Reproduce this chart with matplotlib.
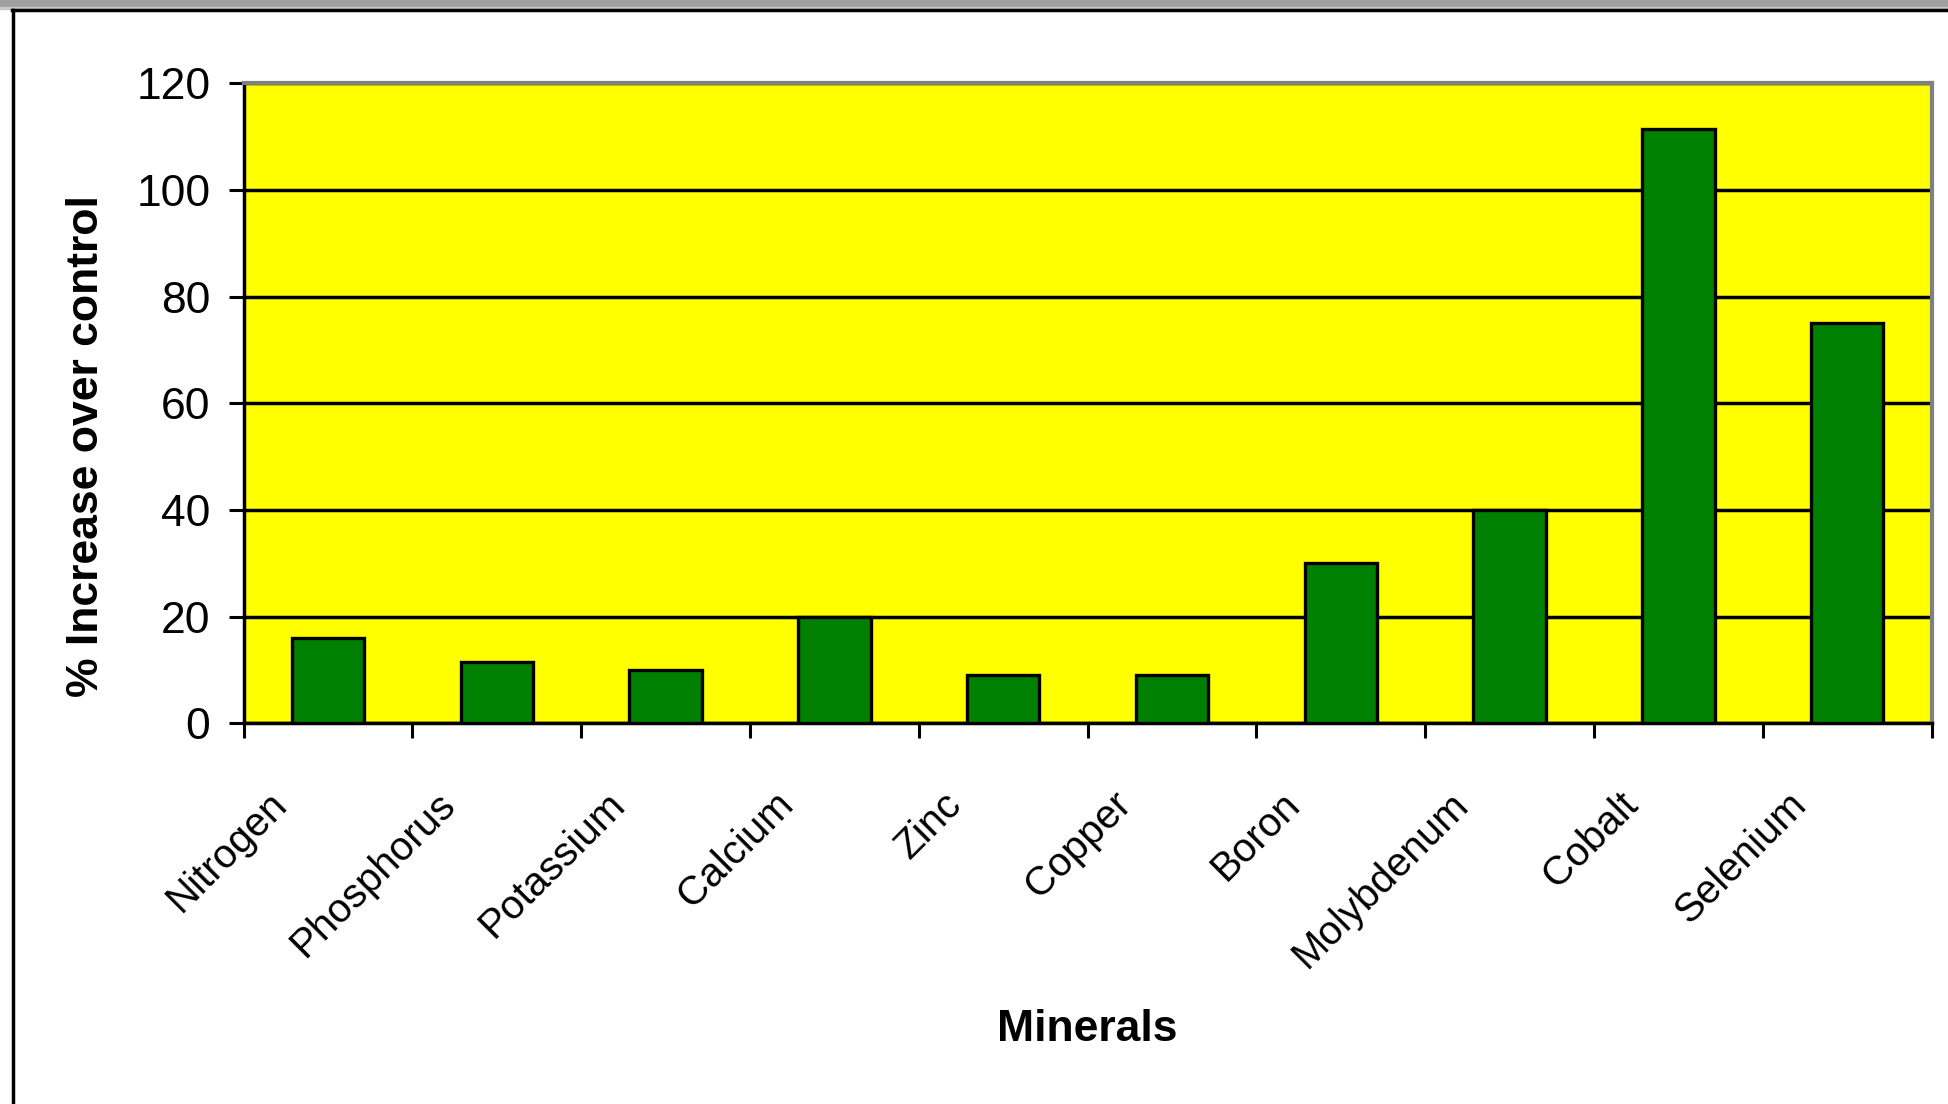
import matplotlib
matplotlib.use("Agg")
import matplotlib.pyplot as plt
import matplotlib.transforms as mtransforms
from matplotlib.lines import Line2D
from matplotlib.patches import Rectangle
from matplotlib import font_manager

minerals = ["Nitrogen", "Phosphorus", "Potassium", "Calcium", "Zinc",
            "Copper", "Boron", "Molybdenum", "Cobalt", "Selenium"]
increase = [16, 11.5, 10, 20, 9, 9, 30, 40, 111.5, 75]
y_ticks = [0, 20, 40, 60, 80, 100, 120]

W, H = 1949, 1104
plt.rcParams['font.family'] = ['Liberation Sans', 'DejaVu Sans']

installed = {f.name for f in font_manager.fontManager.ttflist}
narrow = 'Liberation Sans Narrow' in installed

fig = plt.figure(figsize=(W / 100, H / 100), dpi=100)
fig.patch.set_facecolor('white')

# screenshot frame: grey strip on top, black border lines
fig.patches.append(Rectangle((0, 1 - 7.5 / H), 1, 7.5 / H, transform=fig.transFigure,
                             color='#a0a0a0', zorder=0))
fig.patches.append(Rectangle((0, 1 - 8.5 / H), 1, 1.2 / H, transform=fig.transFigure,
                             color='#c8c8c8', zorder=0))
fig.lines.append(Line2D([12 / W, 1], [1 - 10 / H, 1 - 10 / H], transform=fig.transFigure,
                        color='black', lw=2.5))
fig.lines.append(Line2D([13.3 / W, 13.3 / W], [0, 1 - 10 / H], transform=fig.transFigure,
                        color='black', lw=2.5))

left, right, top, bottom = 243.6, 1931.6, 83.3, 723.4
ax = fig.add_axes([left / W, 1 - bottom / H, (right - left) / W, (bottom - top) / H])
ax.set_facecolor('#ffff00')

x = list(range(len(minerals)))
ax.bar(x, increase, width=0.43, color='#008000', edgecolor='black', linewidth=2.4, zorder=3)

ax.set_xlim(-0.5, len(minerals) - 0.5)
ax.set_ylim(0, 120)
ax.set_yticks(y_ticks)
ax.yaxis.grid(True, color='black', linewidth=2.5)
ax.set_axisbelow(True)

for s in ['left', 'bottom']:
    ax.spines[s].set_color('black')
    ax.spines[s].set_linewidth(2.5)
for s in ['top', 'right']:
    ax.spines[s].set_color('#808080')
    ax.spines[s].set_linewidth(3)

# category boundary ticks, labels sit at category centres
ax.set_xticks([i - 0.5 for i in range(len(minerals) + 1)])
ax.set_xticklabels([])
ax.set_xticks(x, minor=True)
if narrow:
    lab_kw = dict(family=['Liberation Sans Narrow', 'Liberation Sans'], fontsize=34)
else:
    lab_kw = dict(fontsize=29)
ax.set_xticklabels(minerals, minor=True, rotation=45, rotation_mode='anchor',
                   ha='right', va='center', **lab_kw)
ax.tick_params(axis='x', which='major', direction='out', length=11, width=2.2, color='black')
ax.tick_params(axis='x', which='minor', length=0, pad=0)
offset = mtransforms.ScaledTranslation(-0.47, -0.75, fig.dpi_scale_trans)
for lab in ax.get_xticklabels(minor=True):
    lab.set_transform(lab.get_transform() + offset)

ax.tick_params(axis='y', direction='out', length=11, width=2.2, color='black',
               pad=13, labelsize=32)

ax.set_ylabel("% Increase over control", fontsize=32, fontweight='bold', va='center')
ax.yaxis.set_label_coords(-0.0928, 0.433)
ax.set_xlabel("Minerals", fontsize=32, fontweight='bold', va='center')
ax.xaxis.set_label_coords(0.5, -0.4775)

fig.savefig("out.png", dpi=100)
